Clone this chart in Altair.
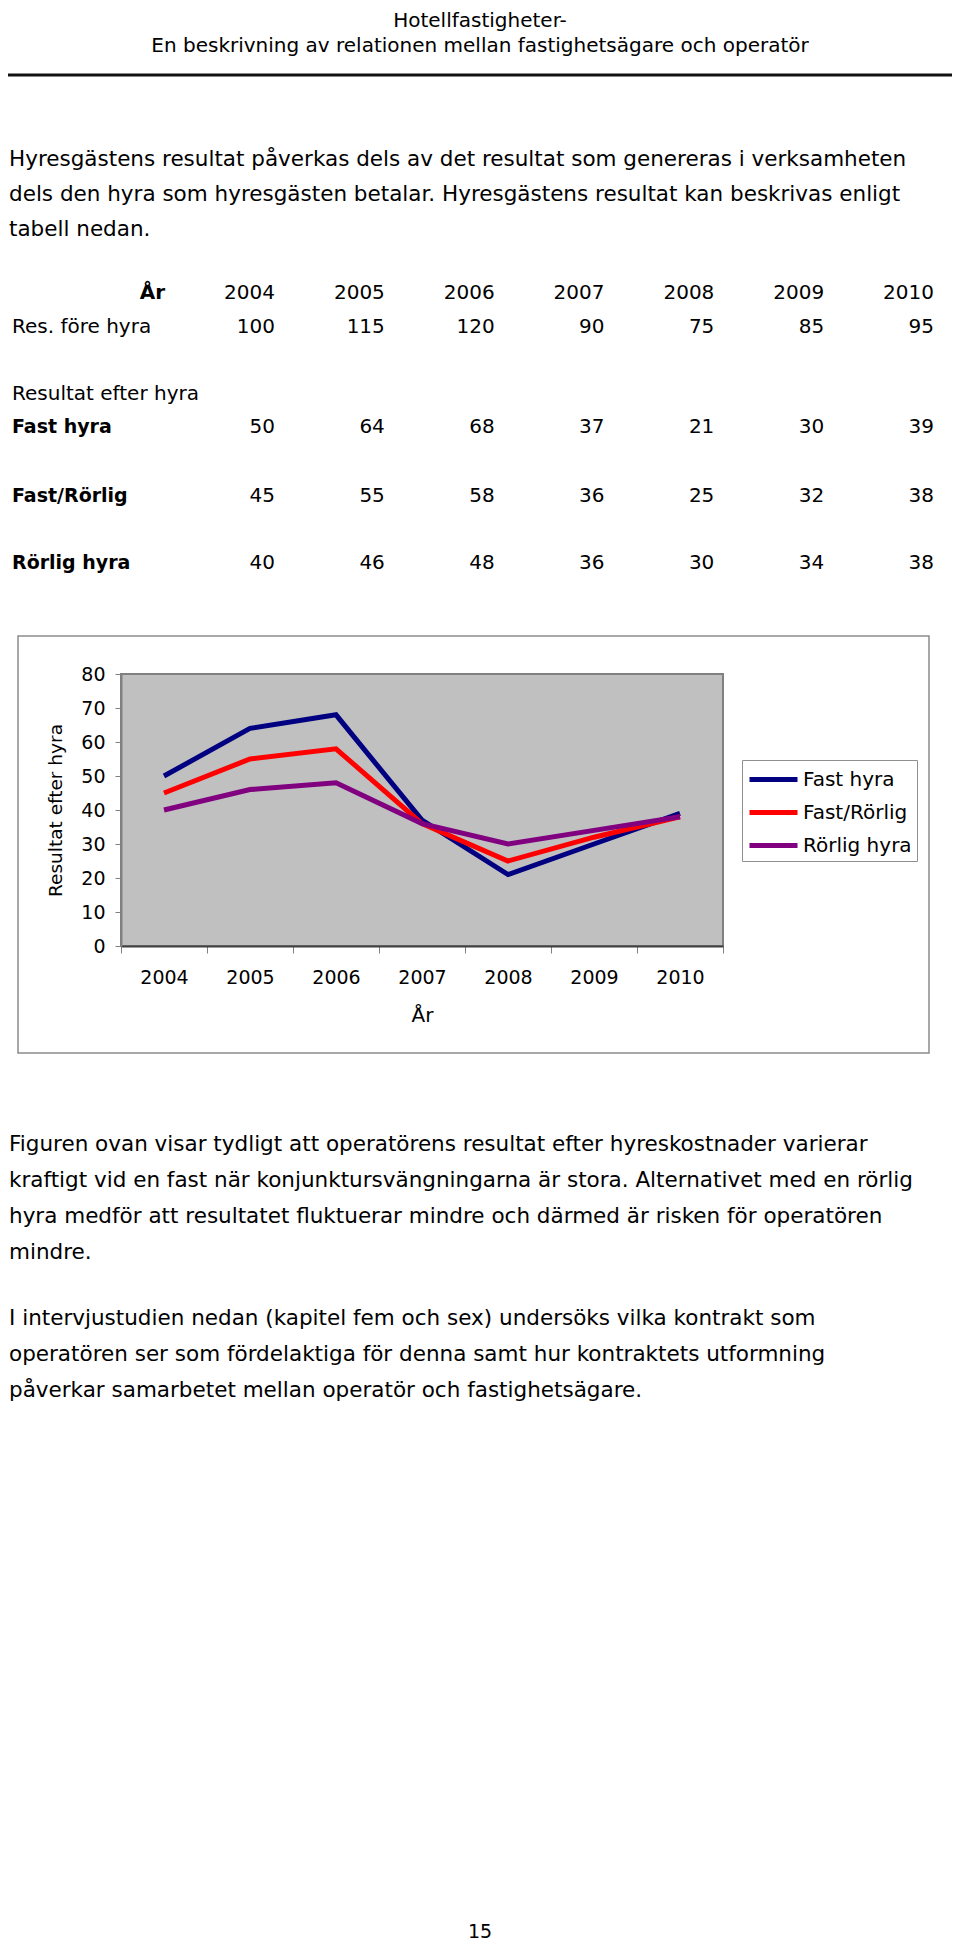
import altair as alt
import pandas as pd

# ---------------- data ----------------
years = [2004, 2005, 2006, 2007, 2008, 2009, 2010]
res_fore_hyra = [100, 115, 120, 90, 75, 85, 95]
fast_hyra = [50, 64, 68, 37, 21, 30, 39]
fast_rorlig = [45, 55, 58, 36, 25, 32, 38]
rorlig_hyra = [40, 46, 48, 36, 30, 34, 38]

series_names = ["Fast hyra", "Fast/Rörlig", "Rörlig hyra"]
series_colors = ["#000080", "#FF0000", "#800080"]
y_ticks = [0, 10, 20, 30, 40, 50, 60, 70, 80]

header_lines = ["Hotellfastigheter-",
                "En beskrivning av relationen mellan fastighetsägare och operatör"]
intro_lines = [
    "Hyresgästens resultat påverkas dels av det resultat som genereras i verksamheten",
    "dels den hyra som hyresgästen betalar. Hyresgästens resultat kan beskrivas enligt",
    "tabell nedan.",
]
para1_lines = [
    "Figuren ovan visar tydligt att operatörens resultat efter hyreskostnader varierar",
    "kraftigt vid en fast när konjunktursvängningarna är stora. Alternativet med en rörlig",
    "hyra medför att resultatet fluktuerar mindre och därmed är risken för operatören",
    "mindre.",
]
para2_lines = [
    "I intervjustudien nedan (kapitel fem och sex) undersöks vilka kontrakt som",
    "operatören ser som fördelaktiga för denna samt hur kontraktets utformning",
    "påverkar samarbetet mellan operatör och fastighetsägare.",
]
page_number = "15"
table_year_label = "År"
table_before_label = "Res. före hyra"
table_after_label = "Resultat efter hyra"
x_title = "År"
y_title = "Resultat efter hyra"

# ---------------- layout (page pixels) ----------------
PL, PT, PW, PH = 121, 674, 602, 272      # plot area on page
SVG_W, SVG_H = 944, 1934
FONT = "DejaVu Sans"
BODY_SIZE = 21.5


def rx(px):
    return px - PL


def ry(py):
    return py - PT


one = alt.Data(values=[{"a": 1}])

# ---------------- line chart ----------------
series_values = [fast_hyra, fast_rorlig, rorlig_hyra]
long_rows = []
for name, vals in zip(series_names, series_values):
    for yr, v in zip(years, vals):
        long_rows.append({"series": name, "year": str(yr), "value": v})
long_df = pd.DataFrame(long_rows)

lines = alt.Chart(long_df).mark_line(strokeWidth=5, strokeJoin="miter").encode(
    x=alt.X("year:O", title=x_title,
            scale=alt.Scale(type="band", paddingInner=0, paddingOuter=0),
            axis=alt.Axis(labelAngle=0, tickBand="extent", tickSize=7,
                          tickColor="#808080", domainColor="#404040", domainWidth=2,
                          labelFont=FONT, labelFontSize=19, labelColor="black",
                          labelPadding=15, titleFont=FONT, titleFontSize=20,
                          titleFontWeight="normal", titleColor="black",
                          titlePadding=18, grid=False)),
    y=alt.Y("value:Q", title=y_title,
            scale=alt.Scale(domain=[0, 80], nice=False),
            axis=alt.Axis(values=y_ticks, tickSize=6, tickColor="#808080",
                          domainColor="#808080", domainWidth=2,
                          labelFont=FONT, labelFontSize=19, labelColor="black",
                          labelPadding=10, titleFont=FONT, titleFontSize=18.5,
                          titleFontWeight="normal", titleColor="black",
                          titlePadding=15, grid=False)),
    color=alt.Color("series:N",
                    scale=alt.Scale(domain=series_names, range=series_colors),
                    legend=alt.Legend(title=None, orient="none",
                                      legendX=rx(742), legendY=ry(760),
                                      strokeColor="#909090", fillColor="white",
                                      padding=5, symbolType="M-1,0H3",
                                      symbolSize=576, symbolStrokeWidth=5,
                                      labelFont=FONT, labelFontSize=20,
                                      labelColor="black", labelOffset=27,
                                      rowPadding=8)),
)

frame = alt.Chart(one).mark_rect(filled=False, stroke="#8c8c8c", strokeWidth=1.5).encode(
    x=alt.value(rx(18)), x2=alt.value(rx(929)),
    y=alt.value(ry(636)), y2=alt.value(ry(1053)),
)

# ---------------- page text ----------------
def text_layer(content, px, py, size=BODY_SIZE, align="left", weight="normal",
               line_height=35):
    return alt.Chart(one).mark_text(
        align=align, baseline="middle", font=FONT, fontSize=size,
        fontWeight=weight, color="black", lineHeight=line_height,
    ).encode(x=alt.value(rx(px)), y=alt.value(ry(py)), text=alt.value(content))


header1 = text_layer(header_lines[0], 480, 21, size=20, align="center")
header2 = text_layer(header_lines[1], 480, 46, size=20, align="center")
rule = alt.Chart(one).mark_rule(color="#111111", strokeWidth=3).encode(
    x=alt.value(rx(0)), x2=alt.value(rx(960)), y=alt.value(ry(75)))
intro = text_layer(intro_lines, 9, 160, line_height=35)
para1 = text_layer(para1_lines, 9, 1145, line_height=36)
para2 = text_layer(para2_lines, 9, 1319, line_height=36)
pnum = text_layer(page_number, 480, 1932, size=19, align="center")

# ---------------- table ----------------
year_scale = alt.Scale(type="point", range=[rx(275), rx(934)], padding=0)


def table_row(values, py, weight="normal"):
    df = pd.DataFrame({"year": [str(y) for y in years], "val": [str(v) for v in values]})
    return alt.Chart(df).mark_text(
        align="right", baseline="middle", font=FONT, fontSize=20,
        fontWeight=weight, color="black",
    ).encode(x=alt.X("year:O", scale=year_scale, axis=None),
             y=alt.value(ry(py)), text="val:N")


row_y = [293, 327, 427, 496, 563]
t_head = table_row(years, row_y[0])
t_fore = table_row(res_fore_hyra, row_y[1])
t_fast = table_row(fast_hyra, row_y[2])
t_fr = table_row(fast_rorlig, row_y[3])
t_r = table_row(rorlig_hyra, row_y[4])

lab_ar = text_layer(table_year_label, 165, row_y[0], size=20, align="right", weight="bold")
lab_fore = text_layer(table_before_label, 12, row_y[1], size=20)
lab_after = text_layer(table_after_label, 12, 394, size=20)
lab_fast = text_layer(series_names[0], 12, row_y[2], size=19, weight="bold")
lab_fr = text_layer(series_names[1], 12, row_y[3], size=19, weight="bold")
lab_r = text_layer(series_names[2], 12, row_y[4], size=19, weight="bold")

chart = alt.layer(
    frame, lines,
    header1, header2, rule, intro,
    t_head, t_fore, t_fast, t_fr, t_r,
    lab_ar, lab_fore, lab_after, lab_fast, lab_fr, lab_r,
    para1, para2, pnum,
).resolve_scale(x="independent").properties(
    width=PW, height=PH,
    padding={"left": PL - 8, "top": PT - 8,
             "right": SVG_W - (PL - 8) - PW, "bottom": SVG_H - (PT - 8) - PH},
    autosize=alt.AutoSizeParams(type="none"),
    background="white",
).configure_view(stroke="#808080", strokeWidth=2, fill="#C0C0C0")

chart.save("out.html", embed_options={"renderer": "svg", "actions": False})
